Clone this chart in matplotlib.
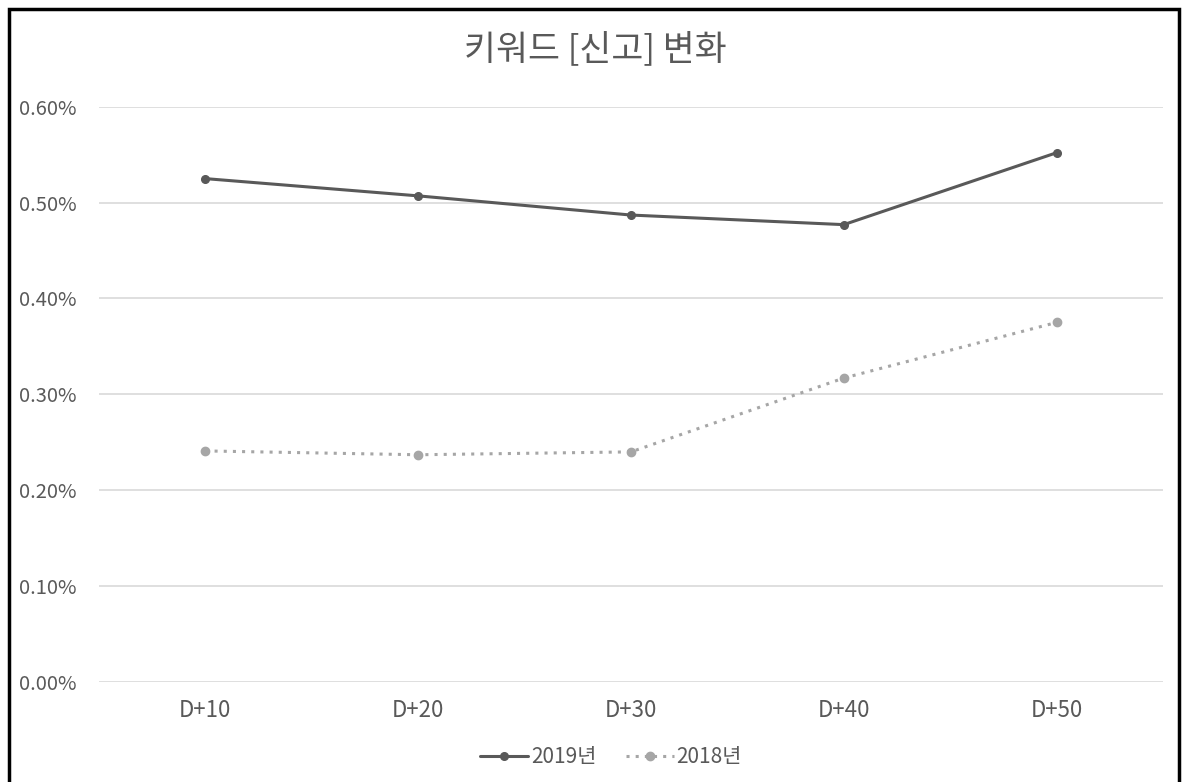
import matplotlib
matplotlib.use("Agg")
import matplotlib.pyplot as plt
from matplotlib.lines import Line2D
from matplotlib.ticker import FuncFormatter

plt.rcParams['font.family'] = ['Noto Sans CJK KR', 'DejaVu Sans']
plt.rcParams['font.weight'] = 'light'

categories = ["D+10", "D+20", "D+30", "D+40", "D+50"]
series_2019 = [0.525, 0.507, 0.487, 0.477, 0.552]   # percent
series_2018 = [0.241, 0.237, 0.240, 0.317, 0.375]   # percent
y_ticks = [0.0, 0.1, 0.2, 0.3, 0.4, 0.5, 0.6]
title = "키워드 [신고] 변화"
labels = ["2019년", "2018년"]

W, H = 1183, 782
fig = plt.figure(figsize=(W / 100, H / 100), dpi=100)
ax = fig.add_axes([99 / W, 1 - 682 / H, (1163 - 99) / W, (682 - 106.7) / H])

text_color = "#595959"
x = list(range(len(categories)))

ax.plot(x, series_2019, color="#595959", lw=2.2, marker="o", ms=5.5,
        label=labels[0], zorder=3, solid_capstyle="round")
ax.plot(x, series_2018, color="#a6a6a6", lw=2.2, ls=(0, (1, 2)), marker="o",
        ms=6, label=labels[1], zorder=3)

ax.set_xlim(-0.5, len(categories) - 0.5)
ax.set_ylim(0, 0.6)
ax.set_yticks(y_ticks)
ax.yaxis.set_major_formatter(FuncFormatter(lambda v, p: f"{v:.2f}%"))
ax.set_xticks(x)
ax.set_xticklabels(categories)
ax.grid(axis="y", color="#d9d9d9", lw=1.2)
ax.set_axisbelow(True)
for s in ax.spines.values():
    s.set_visible(False)
ax.tick_params(length=0, labelsize=14.5, colors=text_color)
ax.tick_params(axis="y", pad=16)
ax.tick_params(axis="x", pad=12, labelsize=16)

fig.text(595 / W, 1 - 50 / H, title, ha="center", va="center",
         fontsize=25, color=text_color)

leg = fig.legend(loc="center", bbox_to_anchor=(611 / W, 1 - 757 / H),
                 ncol=2, frameon=False, fontsize=15, handlelength=2.3,
                 columnspacing=1.4, handletextpad=0.15)
for t in leg.get_texts():
    t.set_color(text_color)

# outer frame (open at the bottom edge)
bx0, by0, bx1 = 8.5 / W, 1 - 8.5 / H, 1179 / W
fig.add_artist(Line2D([bx0, bx0, bx1, bx1], [0, by0, by0, 0],
                      transform=fig.transFigure, color="black", lw=2.5,
                      solid_joinstyle="miter"))

fig.savefig("out.png", dpi=100, facecolor="white")
